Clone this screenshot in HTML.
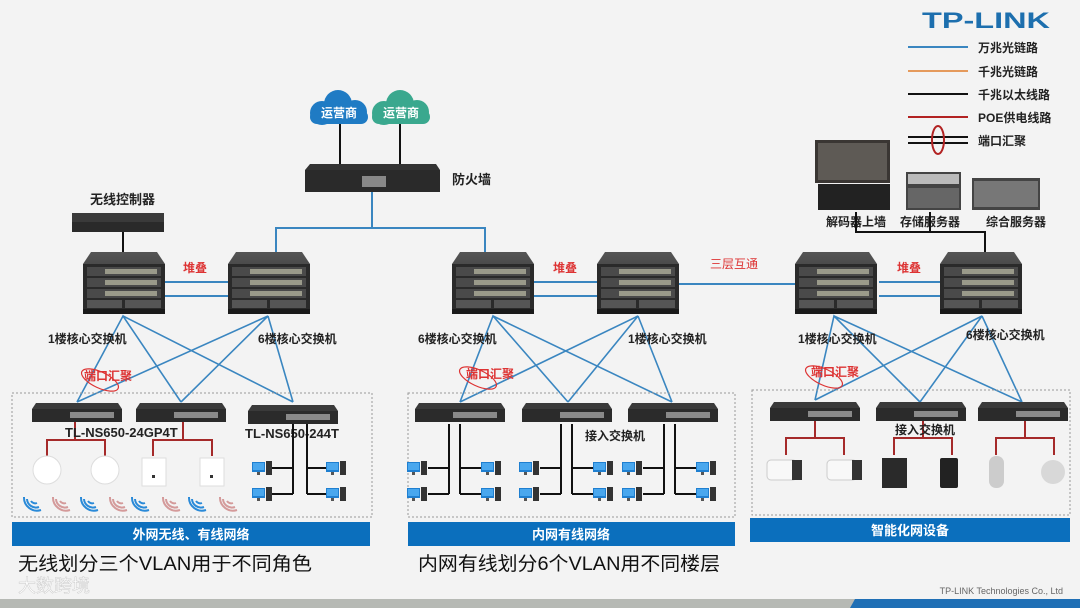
<!DOCTYPE html>
<html><head><meta charset="utf-8"><style>
html,body{margin:0;padding:0;background:#f3f3f3;}
svg{display:block;font-family:"Liberation Sans","Noto Sans CJK SC",sans-serif;}
</style></head><body>
<svg width="1080" height="608" viewBox="0 0 1080 608" xmlns="http://www.w3.org/2000/svg">
<defs>
<linearGradient id="bev" x1="0" y1="0" x2="0" y2="1"><stop offset="0" stop-color="#555"/><stop offset="1" stop-color="#222"/></linearGradient>
<g id="chassis">
 <path d="M8 0 H74 L82 12 V62 H0 V12 Z" fill="url(#bev)"/>
 <rect x="0" y="12" width="82" height="50" fill="#2a2a2a"/>
 <rect x="4" y="15" width="74" height="9" fill="#4a4a4a"/><rect x="22" y="17" width="52" height="5" fill="#9a9a8a"/>
 <rect x="4" y="26" width="74" height="9" fill="#4a4a4a"/><rect x="22" y="28" width="52" height="5" fill="#9a9a8a"/>
 <rect x="4" y="37" width="74" height="9" fill="#4a4a4a"/><rect x="22" y="39" width="52" height="5" fill="#9a9a8a"/>
 <rect x="4" y="48" width="35" height="8" fill="#555"/><rect x="42" y="48" width="36" height="8" fill="#555"/>
 <rect x="0" y="57" width="82" height="5" fill="#1a1a1a"/>
</g>
<g id="sw">
 <path d="M4 0 H86 L90 6 V19 H0 V6 Z" fill="#3a3a3a"/>
 <rect x="0" y="6" width="90" height="13" fill="#2b2b2b"/>
 <rect x="38" y="9" width="44" height="6" fill="#8a8a8a"/>
</g>
<g id="pc">
 <rect x="0" y="0" width="13" height="10" fill="#1f7fd0"/><rect x="1" y="1" width="11" height="7" fill="#49a7ee"/>
 <rect x="5" y="10" width="3" height="3" fill="#555"/><rect x="14" y="-1" width="6" height="14" fill="#333"/>
</g>
<g id="wifi" fill="none" stroke-width="2">
 <circle cx="4" cy="-4" r="2" stroke="none"/>
 <path d="M-1 -1 A5 5 0 0 0 5 1"/><path d="M-5 -3 A9 9 0 0 0 7 5"/><path d="M-8 -5 A13 13 0 0 0 9 8"/>
</g>
</defs>

<!-- TP-LINK logo and legend -->
<text x="922" y="28" font-size="22" font-weight="bold" fill="#1d6fae" textLength="128" lengthAdjust="spacingAndGlyphs">TP-LINK</text>
<g stroke-width="2">
<line x1="908" y1="47" x2="968" y2="47" stroke="#3a86c0"/>
<line x1="908" y1="71" x2="968" y2="71" stroke="#e59a5c"/>
<line x1="908" y1="94" x2="968" y2="94" stroke="#111"/>
<line x1="908" y1="117" x2="968" y2="117" stroke="#b22222"/>
<line x1="908" y1="137" x2="968" y2="137" stroke="#111"/>
<line x1="908" y1="143" x2="968" y2="143" stroke="#111"/>
</g>
<ellipse cx="938" cy="140" rx="6" ry="14" fill="none" stroke="#b22222" stroke-width="2"/>
<g font-size="12" font-weight="bold" fill="#222">
<text x="978" y="52">万兆光链路</text><text x="978" y="76">千兆光链路</text><text x="978" y="99">千兆以太线路</text>
<text x="978" y="122">POE供电线路</text><text x="978" y="145">端口汇聚</text>
</g>

<!-- top right devices -->
<rect x="815" y="140" width="75" height="43" fill="#3a3633"/>
<rect x="818" y="143" width="69" height="37" fill="#5e5a55"/>
<rect x="818" y="184" width="72" height="26" fill="#222"/>
<rect x="906" y="172" width="55" height="38" fill="#444"/><rect x="908" y="174" width="51" height="10" fill="#bbb"/><rect x="908" y="188" width="51" height="20" fill="#666"/>
<rect x="972" y="178" width="68" height="32" fill="#444"/><rect x="974" y="181" width="64" height="26" fill="#777"/>
<g font-size="12" font-weight="bold" fill="#222">
<text x="826" y="226">解码器上墙</text><text x="900" y="226">存储服务器</text><text x="986" y="226">综合服务器</text>
</g>
<polyline points="856,212 856,232 985,232 985,252" fill="none" stroke="#111" stroke-width="2"/>
<line x1="930" y1="212" x2="930" y2="232" stroke="#111" stroke-width="2"/>

<!-- clouds and firewall -->
<line x1="340" y1="122" x2="340" y2="166" stroke="#111" stroke-width="2"/>
<line x1="400" y1="122" x2="400" y2="166" stroke="#111" stroke-width="2"/>
<g fill="#1f7bc4"><circle cx="322" cy="113" r="12"/><circle cx="338" cy="104" r="14"/><circle cx="355" cy="112" r="12"/><rect x="310" y="110" width="58" height="14" rx="7"/></g>
<g fill="#3aa88e"><circle cx="384" cy="113" r="12"/><circle cx="400" cy="104" r="14"/><circle cx="417" cy="112" r="12"/><rect x="372" y="110" width="58" height="14" rx="7"/></g>
<text x="339" y="117" font-size="12" fill="#fff" text-anchor="middle" font-weight="bold">运营商</text>
<text x="401" y="117" font-size="12" fill="#fff" text-anchor="middle" font-weight="bold">运营商</text>
<path d="M310 164 H436 L440 170 V192 H305 V170 Z" fill="#333"/>
<rect x="305" y="170" width="135" height="22" fill="#2a2a2a"/>
<rect x="362" y="176" width="24" height="11" fill="#888"/>
<text x="452" y="184" font-size="13" font-weight="bold" fill="#222">防火墙</text>
<polyline points="372,192 372,228" fill="none" stroke="#3a86c0" stroke-width="2"/>
<polyline points="276,252 276,228 485,228 485,252" fill="none" stroke="#3a86c0" stroke-width="2"/>

<!-- wireless controller -->
<text x="90" y="204" font-size="13" font-weight="bold" fill="#222">无线控制器</text>
<rect x="72" y="213" width="92" height="19" fill="#3a3a3a"/><rect x="72" y="222" width="92" height="10" fill="#2a2a2a"/>
<line x1="123" y1="232" x2="123" y2="252" stroke="#111" stroke-width="2"/>

<!-- core chassis -->
<use href="#chassis" x="83" y="252"/><use href="#chassis" x="228" y="252"/>
<use href="#chassis" x="452" y="252"/><use href="#chassis" x="597" y="252"/>
<use href="#chassis" x="795" y="252"/><use href="#chassis" x="940" y="252"/>
<g stroke="#3a86c0" stroke-width="2">
<line x1="165" y1="282" x2="228" y2="282"/><line x1="165" y1="296" x2="228" y2="296"/>
<line x1="534" y1="282" x2="597" y2="282"/><line x1="534" y1="296" x2="597" y2="296"/>
<line x1="879" y1="282" x2="940" y2="282"/><line x1="879" y1="296" x2="940" y2="296"/>
<line x1="679" y1="284" x2="795" y2="284"/>
</g>
<g font-size="12" font-weight="bold" fill="#d33">
<text x="183" y="272">堆叠</text><text x="553" y="272">堆叠</text><text x="897" y="272">堆叠</text>
<text x="710" y="268" font-weight="normal">三层互通</text>
</g>

<!-- cross links -->
<g stroke="#3a86c0" stroke-width="1.6" fill="none">
<path d="M77 402 L123 316 L181 402 M123 316 L293 402 M77 402 L268 316 L181 402 M268 316 L293 402"/>
<path d="M460 402 L493 316 L568 402 M493 316 L672 402 M460 402 L638 316 L568 402 M638 316 L672 402"/>
<path d="M815 400 L834 316 L920 402 M834 316 L1022 402 M815 400 L982 316 L920 402 M982 316 L1022 402"/>
</g>
<g font-size="12" font-weight="bold" fill="#222">
<text x="48" y="343">1楼核心交换机</text><text x="258" y="343">6楼核心交换机</text>
<text x="418" y="343">6楼核心交换机</text><text x="628" y="343">1楼核心交换机</text>
<text x="798" y="343">1楼核心交换机</text><text x="966" y="339">6楼核心交换机</text>
</g>
<g stroke="#d33" stroke-width="1.2" fill="none">
<ellipse cx="100" cy="380" rx="20" ry="8" transform="rotate(25 100 380)"/>
<ellipse cx="478" cy="378" rx="20" ry="8" transform="rotate(25 478 378)"/>
<ellipse cx="824" cy="377" rx="20" ry="8" transform="rotate(25 824 377)"/>
</g>
<g font-size="12" font-weight="bold" fill="#d33">
<text x="84" y="380">端口汇聚</text><text x="466" y="378">端口汇聚</text><text x="811" y="376">端口汇聚</text>
</g>

<!-- dashed boxes -->
<g fill="none" stroke="#999" stroke-dasharray="2,2">
<rect x="12" y="393" width="360" height="124"/><rect x="408" y="393" width="327" height="124"/><rect x="752" y="390" width="318" height="125"/>
</g>

<!-- access switches -->
<use href="#sw" x="32" y="403"/><use href="#sw" x="136" y="403"/><use href="#sw" x="248" y="405"/>
<use href="#sw" x="415" y="403"/><use href="#sw" x="522" y="403"/><use href="#sw" x="628" y="403"/>
<use href="#sw" x="770" y="402"/><use href="#sw" x="876" y="402"/><use href="#sw" x="978" y="402"/>

<!-- left box contents -->
<g stroke="#a52a2a" stroke-width="2" fill="none">
<polyline points="75,422 75,440"/><polyline points="47,456 47,440 105,440 105,456"/>
<polyline points="183,422 183,440"/><polyline points="153,456 153,440 212,440 212,456"/>
</g>
<g font-size="13" font-weight="bold" fill="#222">
<text x="65" y="437">TL-NS650-24GP4T</text><text x="245" y="438">TL-NS650-244T</text>
</g>
<circle cx="47" cy="470" r="14" fill="#fff" stroke="#ddd"/><circle cx="105" cy="470" r="14" fill="#fff" stroke="#ddd"/>
<rect x="142" y="458" width="24" height="28" fill="#fff" stroke="#ddd"/><rect x="152" y="475" width="3" height="3" fill="#333"/>
<rect x="200" y="458" width="24" height="28" fill="#fff" stroke="#ddd"/><rect x="210" y="475" width="3" height="3" fill="#333"/>
<g fill="#2a8ad8" stroke="#2a8ad8"><use href="#wifi" x="32" y="502"/><use href="#wifi" x="89" y="502"/><use href="#wifi" x="140" y="502"/><use href="#wifi" x="197" y="502"/></g>
<g fill="#d49a9a" stroke="#d49a9a"><use href="#wifi" x="61" y="502"/><use href="#wifi" x="118" y="502"/><use href="#wifi" x="171" y="502"/><use href="#wifi" x="228" y="502"/></g>
<g stroke="#111" stroke-width="2" fill="none">
<path d="M293 424 V494 M272 468 H293 M272 494 H293 M307 424 V494 M307 468 H326 M307 494 H326"/>
</g>
<use href="#pc" x="252" y="462"/><use href="#pc" x="252" y="488"/><use href="#pc" x="326" y="462"/><use href="#pc" x="326" y="488"/>

<!-- middle box contents -->
<g stroke="#111" stroke-width="2" fill="none">
<path d="M449 424 V494 M428 468 H449 M428 494 H449 M460 424 V494 M460 468 H481 M460 494 H481"/>
<path d="M561 424 V494 M540 468 H561 M540 494 H561 M572 424 V494 M572 468 H593 M572 494 H593"/>
<path d="M664 424 V494 M643 468 H664 M643 494 H664 M675 424 V494 M675 468 H696 M675 494 H696"/>
</g>
<use href="#pc" x="407" y="462"/><use href="#pc" x="407" y="488"/><use href="#pc" x="481" y="462"/><use href="#pc" x="481" y="488"/>
<use href="#pc" x="519" y="462"/><use href="#pc" x="519" y="488"/><use href="#pc" x="593" y="462"/><use href="#pc" x="593" y="488"/>
<use href="#pc" x="622" y="462"/><use href="#pc" x="622" y="488"/><use href="#pc" x="696" y="462"/><use href="#pc" x="696" y="488"/>
<text x="585" y="440" font-size="12" font-weight="bold" fill="#222">接入交换机</text>

<!-- right box contents -->
<g stroke="#a52a2a" stroke-width="2" fill="none">
<path d="M815 421 V438 M786 455 V438 H844 V455"/>
<path d="M923 421 V438 M894 455 V438 H952 V455"/>
<path d="M1025 421 V438 M996 455 V438 H1054 V455"/>
</g>
<text x="895" y="434" font-size="12" font-weight="bold" fill="#222">接入交换机</text>
<rect x="767" y="460" width="30" height="20" rx="4" fill="#f8f8f8" stroke="#ccc"/><rect x="792" y="460" width="10" height="20" fill="#333"/>
<rect x="827" y="460" width="30" height="20" rx="4" fill="#f8f8f8" stroke="#ccc"/><rect x="852" y="460" width="10" height="20" fill="#333"/>
<rect x="882" y="458" width="25" height="30" fill="#2a2a2a"/>
<rect x="940" y="458" width="18" height="30" rx="2" fill="#222"/>
<rect x="989" y="456" width="15" height="32" rx="7" fill="#ccc"/>
<circle cx="1053" cy="472" r="12" fill="#d8d8d8"/>

<!-- blue bars -->
<rect x="12" y="522" width="358" height="24" fill="#0b6fbd"/>
<rect x="408" y="522" width="327" height="24" fill="#0b6fbd"/>
<rect x="750" y="518" width="320" height="24" fill="#0b6fbd"/>
<g font-size="13" fill="#fff" text-anchor="middle" font-weight="bold">
<text x="191" y="539">外网无线、有线网络</text><text x="571" y="539">内网有线网络</text><text x="910" y="535">智能化网设备</text>
</g>
<g font-size="19" fill="#111">
<text x="18" y="570" textLength="294" lengthAdjust="spacingAndGlyphs">无线划分三个VLAN用于不同角色</text>
<text x="418" y="570" textLength="302" lengthAdjust="spacingAndGlyphs">内网有线划分6个VLAN用不同楼层</text>
</g>
<text x="18" y="592" font-size="18" fill="#fff" stroke="#ccc" stroke-width="0.5">大数跨境</text>
<text x="1063" y="594" font-size="9" fill="#666" text-anchor="end">TP-LINK Technologies Co., Ltd</text>
<rect x="0" y="599" width="1080" height="9" fill="#b6b9b4"/>
<path d="M855 599 H1080 V608 H850 Z" fill="#1f6fb5"/>
</svg>
</body></html>
